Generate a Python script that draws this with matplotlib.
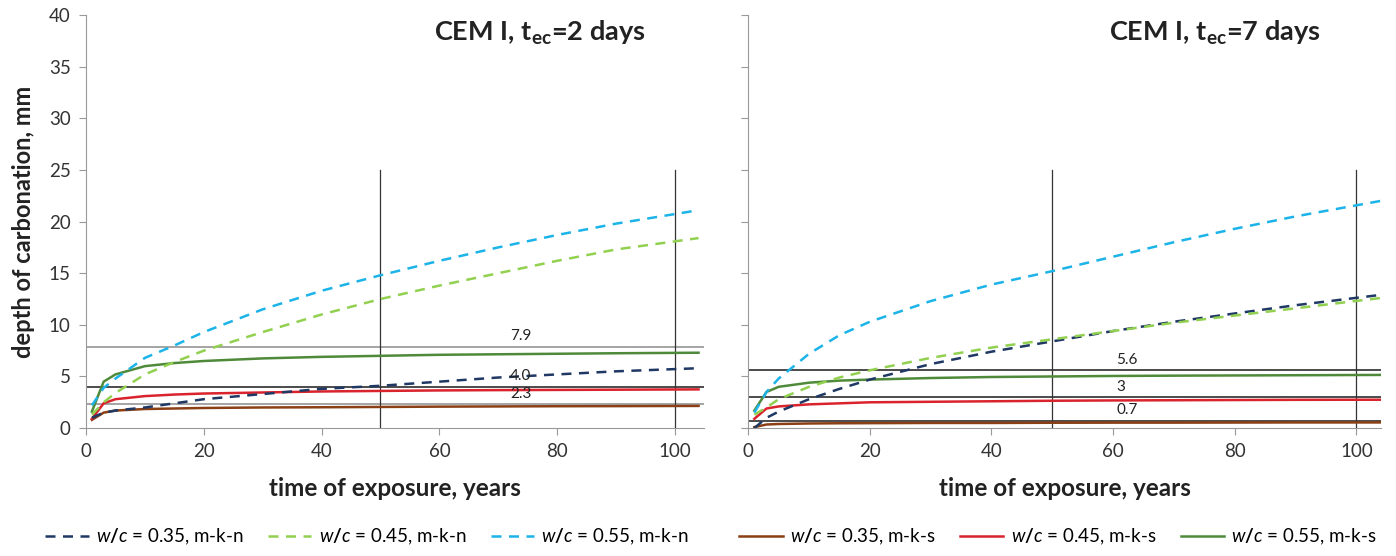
import numpy as np
import matplotlib
matplotlib.use("Agg")
import matplotlib.pyplot as plt
from matplotlib.lines import Line2D

plt.rcParams['font.family'] = ['Lato', 'DejaVu Sans']
plt.rcParams['mathtext.fontset'] = 'custom'
plt.rcParams['mathtext.rm'] = 'Lato:bold'
plt.rcParams['mathtext.it'] = 'Lato:italic'

# time of exposure, years
t = [1, 3, 5, 10, 15, 20, 30, 40, 50, 60, 70, 80, 90, 104]

# CEM I, tec = 2 days
left_n035 = [1.0, 1.5, 1.7, 2.0, 2.4, 2.8, 3.3, 3.8, 4.1, 4.5, 4.9, 5.2, 5.5, 5.8]
left_n045 = [1.3, 2.5, 3.4, 5.2, 6.4, 7.5, 9.3, 11.0, 12.5, 13.8, 15.0, 16.2, 17.3, 18.4]
left_n055 = [2.2, 3.9, 4.8, 6.8, 8.0, 9.3, 11.5, 13.3, 14.8, 16.2, 17.5, 18.7, 19.8, 21.1]
left_s035 = [0.8, 1.5, 1.7, 1.85, 1.9, 1.95, 2.0, 2.02, 2.05, 2.08, 2.1, 2.12, 2.13, 2.15]
left_s045 = [0.9, 2.4, 2.8, 3.1, 3.25, 3.35, 3.45, 3.55, 3.6, 3.65, 3.68, 3.7, 3.72, 3.75]
left_s055 = [1.6, 4.5, 5.2, 6.0, 6.3, 6.5, 6.75, 6.9, 7.0, 7.1, 7.15, 7.2, 7.25, 7.3]
left_hlines = [7.9, 4.0, 2.3]
left_hlabels = ["7.9", "4.0", "2.3"]
left_hcolors = ["#8c8c8c", "#1a1a1a", "#8c8c8c"]

# CEM I, tec = 7 days
right_n035 = [0.0, 1.0, 1.6, 2.8, 3.8, 4.7, 6.2, 7.4, 8.4, 9.4, 10.3, 11.1, 11.9, 12.9]
right_n045 = [1.3, 2.0, 2.8, 4.0, 4.9, 5.6, 6.8, 7.8, 8.6, 9.4, 10.2, 10.9, 11.6, 12.6]
right_n055 = [1.5, 3.5, 4.8, 7.2, 9.0, 10.3, 12.3, 13.9, 15.2, 16.6, 18.0, 19.3, 20.5, 22.0]
right_s035 = [0.1, 0.35, 0.4, 0.45, 0.47, 0.48, 0.5, 0.5, 0.52, 0.53, 0.53, 0.54, 0.55, 0.55]
right_s045 = [0.9, 1.9, 2.1, 2.3, 2.4, 2.5, 2.55, 2.6, 2.65, 2.68, 2.7, 2.72, 2.74, 2.75]
right_s055 = [1.7, 3.5, 4.0, 4.4, 4.6, 4.7, 4.85, 4.95, 5.0, 5.05, 5.08, 5.1, 5.12, 5.15]
right_hlines = [5.6, 3.0, 0.7]
right_hlabels = ["5.6", "3", "0.7"]
right_hcolors = ["#1a1a1a", "#1a1a1a", "#1a1a1a"]

vlines_x = [50, 100]
vline_top = 25

labels_n = ["$w/c$ = 0.35, m-k-n", "$w/c$ = 0.45, m-k-n", "$w/c$ = 0.55, m-k-n"]
labels_s = ["$w/c$ = 0.35, m-k-s", "$w/c$ = 0.45, m-k-s", "$w/c$ = 0.55, m-k-s"]
colors_n = ["#1f3864", "#92d050", "#1cb4e8"]
colors_s = ["#8b3f14", "#d9232d", "#4f8a3a"]

fig = plt.figure(figsize=(13.96, 5.56), dpi=100)
ax1 = fig.add_axes([0.0616, 0.230, 0.443, 0.743])
ax2 = fig.add_axes([0.536, 0.230, 0.453, 0.743])


def draw(ax, ns, ss, hl, hlab, hcol, lab_x, xmax, title, show_ylabels):
    for y, lab, c in zip(hl, hlab, hcol):
        ax.axhline(y, color=c, lw=1.1, zorder=1)
        ax.text(lab_x, y + 0.35, lab, fontsize=11, color="#222222",
                ha="left", va="bottom", zorder=5)
    for x in vlines_x:
        ax.plot([x, x], [0, vline_top], color="#333333", lw=0.9, zorder=1)
    for vals, c in zip(ss, colors_s):
        ax.plot(t, vals, color=c, lw=1.8, zorder=3)
    for vals, c in zip(ns, colors_n):
        ax.plot(t, vals, color=c, lw=1.8, dashes=(4, 3), zorder=4)
    ax.set_xlim(0, xmax)
    ax.set_ylim(0, 40)
    ax.set_xticks(range(0, 101, 20))
    ax.set_yticks(range(0, 41, 5))
    for s in ["top", "right"]:
        ax.spines[s].set_visible(False)
    for s in ["left", "bottom"]:
        ax.spines[s].set_color("#999999")
    ax.tick_params(direction="out", length=5, color="#999999",
                   labelsize=13.5, labelcolor="#333333", pad=6)
    if not show_ylabels:
        ax.tick_params(axis="y", labelleft=False)
    ax.set_xlabel("time of exposure, years", fontsize=17.5, fontweight="bold",
                  labelpad=12, color="#222222")
    ax.text(0.905, 0.99, title, transform=ax.transAxes, fontsize=19.5,
            fontweight="bold", ha="right", va="top", color="#222222")


draw(ax1, [left_n035, left_n045, left_n055],
     [left_s035, left_s045, left_s055],
     left_hlines, left_hlabels, left_hcolors, 72, 105,
     r"CEM I, t$_{\mathrm{ec}}$=2 days", True)
draw(ax2, [right_n035, right_n045, right_n055],
     [right_s035, right_s045, right_s055],
     right_hlines, right_hlabels, right_hcolors, 60.5, 104,
     r"CEM I, t$_{\mathrm{ec}}$=7 days", False)
ax1.set_ylabel("depth of carbonation, mm", fontsize=17, fontweight="bold",
               labelpad=10, color="#222222")

h_n = [Line2D([], [], color=c, lw=1.8, dashes=(4, 3)) for c in colors_n]
h_s = [Line2D([], [], color=c, lw=1.8) for c in colors_s]
fig.legend(h_n, labels_n, loc="center", bbox_to_anchor=(0.263, 0.034),
           ncol=3, frameon=False, fontsize=13.5, handlelength=2.3,
           columnspacing=1.3, handletextpad=0.4)
fig.legend(h_s, labels_s, loc="center", bbox_to_anchor=(0.758, 0.034),
           ncol=3, frameon=False, fontsize=13.5, handlelength=2.3,
           columnspacing=1.3, handletextpad=0.4)

fig.savefig("out.png", dpi=100)
